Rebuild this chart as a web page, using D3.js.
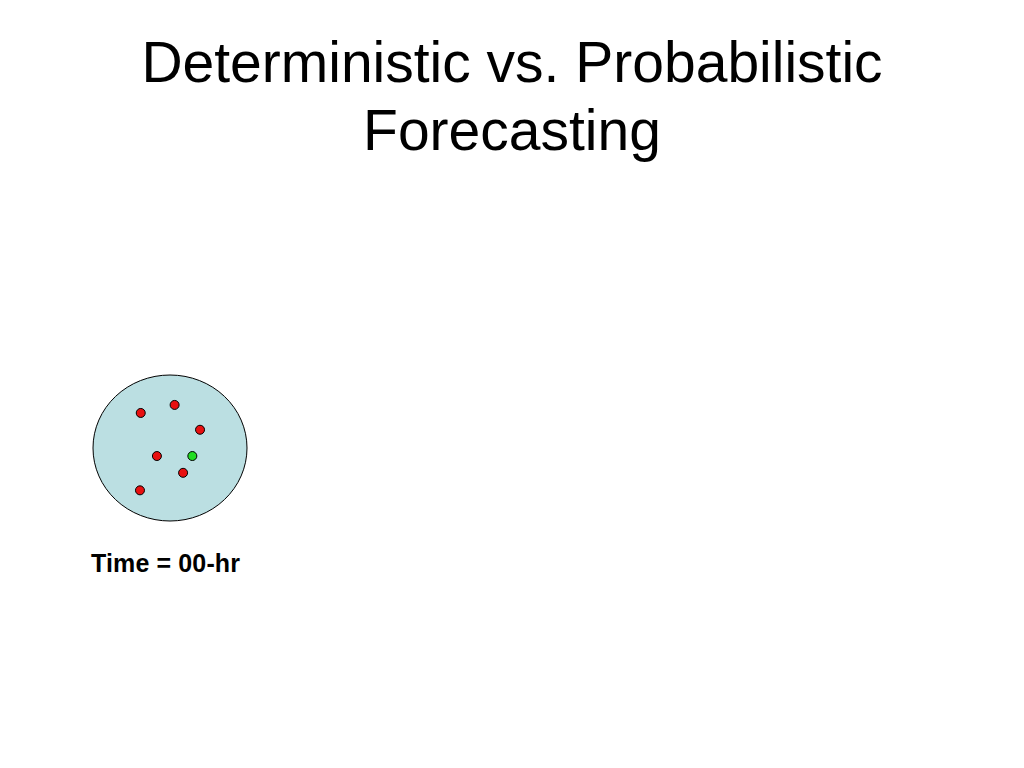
<!DOCTYPE html>
<html><head><meta charset="utf-8">
<script src="https://cdn.jsdelivr.net/npm/d3@7"></script>
<style>body{margin:0;background:#fff}</style></head>
<body><svg id="c" width="1024" height="768"></svg>
<script>
const titleLines = ["Deterministic vs. Probabilistic", "Forecasting"];
const label = "Time = 00-hr";
// member positions in circle-relative units (-1..1)
const membersX = [-0.38, 0.06, 0.39, -0.17, 0.17, -0.39];
const membersY = [-0.48, -0.59, -0.25, 0.11, 0.34, 0.58];
const analysisX = [0.29];
const analysisY = [0.11];

const svg = d3.select("#c");
const cx = 170, cy = 448, rx = 77, ry = 73;
const x = d3.scaleLinear().domain([-1, 1]).range([cx - rx, cx + rx]);
const y = d3.scaleLinear().domain([-1, 1]).range([cy - ry, cy + ry]);

svg.selectAll("text.t").data(titleLines).join("text")
  .attr("x", 512).attr("y", (d, i) => 82 + i * 68)
  .attr("text-anchor", "middle").attr("font-family", "Liberation Sans, Arial, sans-serif")
  .attr("font-size", 57).attr("fill", "#000").text(d => d);

svg.append("ellipse").attr("cx", x(0)).attr("cy", y(0))
  .attr("rx", x(1) - x(0)).attr("ry", y(1) - y(0))
  .attr("fill", "#bbdfe2").attr("stroke", "#000").attr("stroke-width", 1);

svg.selectAll("circle.m").data(membersX.map((v, i) => [v, membersY[i]])).join("circle")
  .attr("cx", d => x(d[0])).attr("cy", d => y(d[1])).attr("r", 4.5)
  .attr("fill", "#e81010").attr("stroke", "#000").attr("stroke-width", 1);

svg.selectAll("circle.a").data(analysisX.map((v, i) => [v, analysisY[i]])).join("circle")
  .attr("cx", d => x(d[0])).attr("cy", d => y(d[1])).attr("r", 4.5)
  .attr("fill", "#22dd22").attr("stroke", "#000").attr("stroke-width", 1);

svg.append("text").attr("x", 91).attr("y", 572)
  .attr("font-family", "Liberation Sans, Arial, sans-serif").attr("font-weight", "bold")
  .attr("font-size", 25).attr("textLength", 149).text(label);
</script></body></html>
